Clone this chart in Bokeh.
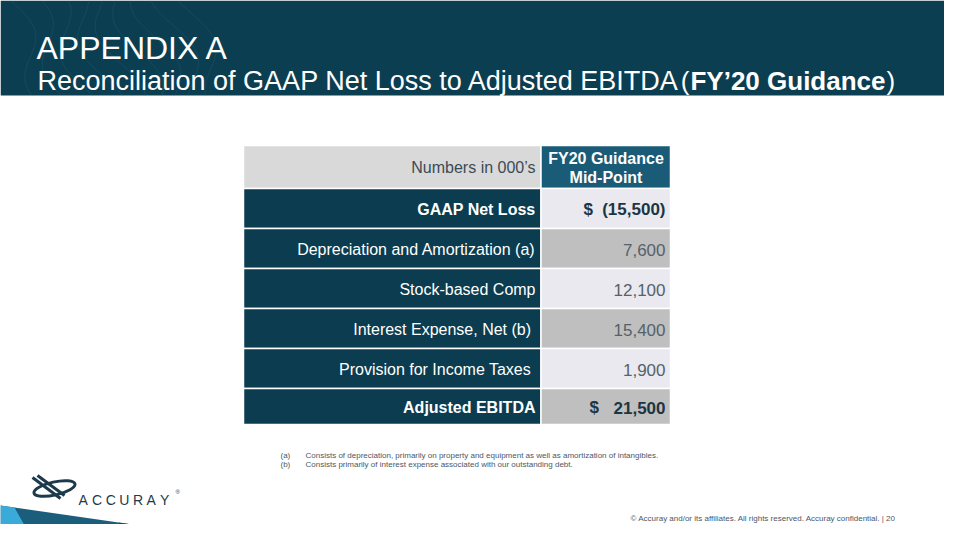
import numpy as np
from bokeh.plotting import figure
from bokeh.models import Range1d, ColumnDataSource
from bokeh.core.properties import value
from bokeh.embed import file_html
from bokeh.resources import INLINE

# ---------------- data ----------------
title = "APPENDIX A"
subtitle_plain = "Reconciliation of GAAP Net Loss to Adjusted EBITDA"
subtitle_open = "("
subtitle_bold = "FY\u201920 Guidance"
subtitle_end = ")"
unit_label = "Numbers in 000\u2019s"
col_header = ["FY20 Guidance", "Mid-Point"]
items = ["GAAP Net Loss", "Depreciation and Amortization (a)", "Stock-based Comp",
         "Interest  Expense, Net (b)", "Provision for Income  Taxes", "Adjusted EBITDA"]
amounts = [-15500, 7600, 12100, 15400, 1900, 21500]
is_total = [True, False, False, False, False, True]
footnote_keys = ["(a)", "(b)"]
footnotes = ["Consists  of depreciation,  primarily  on property  and equipment  as well as amortization  of intangibles.",
             "Consists primarily  of interest  expense   associated  with  our outstanding  debt."]
footer = "\u00a9 Accuray  and/or  its affiliates.  All rights reserved.  Accuray  confidential.   |    20"
brand = "ACCURAY"

FONT = value("Liberation Sans")
NAVY = "#0b3c50"
TEAL = "#1a5b78"
BAR = "#0c3e51"

def fmt(v):
    s = f"{abs(v):,}"
    return f"({s})" if v < 0 else s

p = figure(width=944, height=524, x_range=Range1d(0, 944), y_range=Range1d(524, 0),
           output_backend="svg", toolbar_location=None, min_border=0)
p.axis.visible = False
p.grid.visible = False
p.outline_line_color = None
p.background_fill_color = "white"
p.border_fill_color = "white"

# ---------------- header bar ----------------
p.quad(left=0, right=960, top=0, bottom=95, fill_color=BAR, line_color=None)
yy = np.linspace(0, 95, 60)
xs, ys = [], []
for k in range(9):
    xs.append(list(10 + k * 22 + 14 * np.sin(yy / 18.0 + k * 0.7) + yy * 0.35))
    ys.append(list(yy))
p.multi_line(xs=xs, ys=ys, line_color="#2b6a84", line_alpha=0.3, line_width=1)

p.text(x=[36], y=[47], text=[title], text_font=FONT, text_font_size="32px",
       text_color="white", text_baseline="alphabetic", text_align="left")
p.text(x=[37], y=[80], text=[subtitle_plain], text_font=FONT, text_font_size="27px",
       text_color="white", text_baseline="alphabetic", text_align="left")
p.text(x=[689], y=[80], text=[subtitle_open], text_font=FONT, text_font_size="26px",
       text_color="white", text_baseline="alphabetic", text_align="right")
p.text(x=[885], y=[80], text=[subtitle_bold], text_font=FONT, text_font_size="26px",
       text_font_style="bold", text_color="white", text_baseline="alphabetic", text_align="right")
p.text(x=[886], y=[80], text=[subtitle_end], text_font=FONT, text_font_size="26px",
       text_color="white", text_baseline="alphabetic", text_align="left")

# ---------------- table ----------------
L0, L1, R0, R1 = 243, 540.5, 540.5, 670
edges = [145, 188, 228, 268, 308, 348, 388, 424]
dollar_x = [583, None, None, None, None, 589]

p.quad(left=[L0], right=[L1], top=[edges[0]], bottom=[edges[1]], fill_color="#d9d9d9",
       line_color="white", line_width=1.5)
p.quad(left=[R0], right=[R1], top=[edges[0]], bottom=[edges[1]], fill_color=TEAL,
       line_color="white", line_width=1.5)
p.text(x=[535], y=[167], text=[unit_label], text_font=FONT, text_font_size="16px",
       text_color="#3b4b55", text_align="right", text_baseline="middle")
p.text(x=[605.5, 605.5], y=[158, 176.5], text=col_header, text_font=FONT, text_font_size="16px",
       text_font_style="bold", text_color="white", text_align="center", text_baseline="middle")

n = len(items)
tops = edges[1:1 + n]
bots = edges[2:2 + n]
mids = [(a + b) / 2 + 1 for a, b in zip(tops, bots)]
right_fill = ["#e9e9ef" if i % 2 == 0 else "#bfbfbf" for i in range(n)]
src = ColumnDataSource(dict(top=tops, bottom=bots, rf=right_fill))
p.quad(left=L0, right=L1, top="top", bottom="bottom", source=src, fill_color=NAVY,
       line_color="white", line_width=1.5)
p.quad(left=R0, right=R1, top="top", bottom="bottom", source=src, fill_color="rf",
       line_color="white", line_width=1.5)

for i in range(n):
    bold = "bold" if is_total[i] else "normal"
    p.text(x=[535], y=[mids[i]], text=[items[i]], text_font=FONT, text_font_size="16px",
           text_font_style=bold, text_color="white", text_align="right", text_baseline="middle")
    p.text(x=[665], y=[mids[i]], text=[fmt(amounts[i])], text_font=FONT, text_font_size="17px",
           text_font_style=bold, text_color="#1c3542" if is_total[i] else "#56616a",
           text_align="right", text_baseline="middle")
    if is_total[i]:
        p.text(x=[dollar_x[i]], y=[mids[i]], text=["$"], text_font=FONT, text_font_size="17px",
               text_font_style="bold", text_color="#1c3542", text_align="left", text_baseline="middle")

# ---------------- footnotes ----------------
p.text(x=[280, 280], y=[455, 464], text=footnote_keys, text_font=FONT, text_font_size="8px",
       text_color="#4a5866", text_align="left", text_baseline="middle")
p.text(x=[305, 305], y=[455, 464], text=footnotes, text_font=FONT, text_font_size="8px",
       text_color="#4a5866", text_align="left", text_baseline="middle")

# ---------------- logo ----------------
LOGO = "#1c3a4c"
p.ellipse(x=[54], y=[488], width=42, height=13, angle=0.22, fill_color=None,
          line_color=LOGO, line_width=3)
p.segment(x0=[32, 37], y0=[477, 475], x1=[60, 64], y1=[498, 495], line_color=LOGO, line_width=3)
p.text(x=[78 + 13.6 * i for i in range(len(brand))], y=[499] * len(brand), text=list(brand),
       text_font=FONT, text_font_size="14px", text_color=LOGO, text_align="left",
       text_baseline="alphabetic")
p.text(x=[175], y=[491], text=["\u00ae"], text_font=FONT, text_font_size="6px",
       text_color=LOGO, text_align="left", text_baseline="alphabetic")

# ---------------- bottom band ----------------
p.patch(x=[0, 250, 0], y=[505, 541, 541], fill_color="#1b5e7c", line_color=None)
p.patch(x=[118, 250, 135], y=[522, 541, 541], fill_color="#0f4862", line_color=None)
p.patch(x=[0, 14, 33, 0], y=[505, 507, 541, 541], fill_color="#3aaad8", line_color=None)

# ---------------- footer ----------------
p.text(x=[918], y=[518], text=[footer], text_font=FONT, text_font_size="8px",
       text_color="#4a5866", text_align="right", text_baseline="middle")

open("out.html", "w").write(file_html(p, INLINE))
